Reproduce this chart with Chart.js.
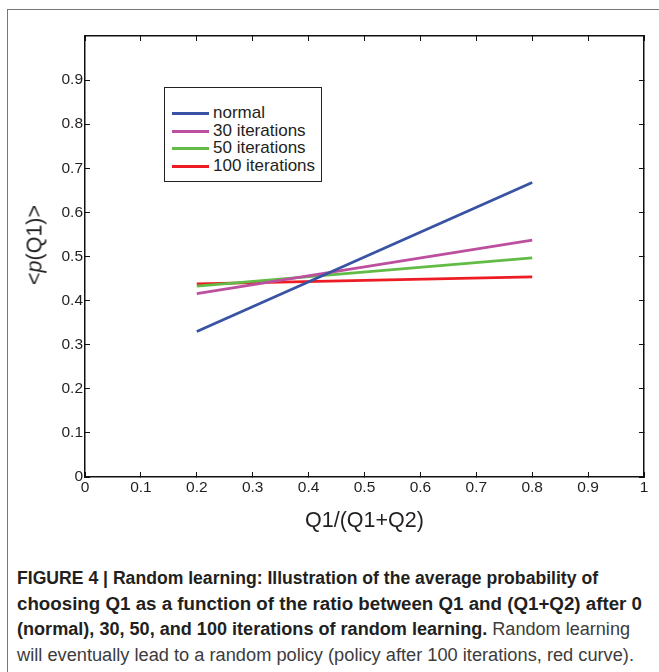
<!DOCTYPE html>
<html>
<head>
<meta charset="utf-8">
<script src="https://cdn.jsdelivr.net/npm/chart.js@4.4.1/dist/chart.umd.min.js"></script>
<style>
  html, body { margin: 0; padding: 0; background: #fff; }
  body { width: 659px; height: 672px; overflow: hidden; position: relative;
         font-family: "Liberation Sans", Arimo, Roboto, sans-serif; }
  .frame { position: absolute; left: 7px; top: 9px; width: 720px; height: 720px; border: 1.5px solid #777; }
  #chartWrap { position: absolute; left: 0; top: 0; width: 659px; height: 560px; }
  .ylabel { position: absolute; left: 35px; top: 245px; transform: translate(-50%, -50%) rotate(-90deg);
            font-size: 21.5px; color: #231f20; white-space: nowrap; }
  .legend { position: absolute; left: 164px; top: 87px; width: 158px; height: 95px; border: 1.5px solid #222;
            background: #fff; box-sizing: border-box; }
  .legend .row { position: absolute; left: 0; height: 18px; font-size: 17px; line-height: 18px; color: #231f20; white-space: nowrap; }
  .legend .swatch { position: absolute; left: 7px; top: 8px; width: 37px; height: 3px; }
  .legend .txt { position: absolute; left: 48px; top: 0; }
  .caption { position: absolute; left: 17px; top: 566px; font-size: 18px; color: #3c3c3c; }
  .caption .line { display: block; height: 25.5px; line-height: 25.5px; white-space: nowrap; }
  .caption .line span.fit { display: inline-block; transform-origin: 0 50%; }
  .caption b { color: #231f20; }
</style>
</head>
<body>
<div class="frame"></div>
<div id="chartWrap"><canvas id="lineChart" width="659" height="560"></canvas></div>
<div class="ylabel">&lt;<i>p</i>(Q1)&gt;</div>
<div class="legend" id="legend"></div>
<div class="caption">
  <div class="line" data-w="581"><span class="fit"><b>FIGURE 4 | Random learning: Illustration of the average probability of</b></span></div>
  <div class="line" data-w="625"><span class="fit"><b>choosing Q1 as a function of the ratio between Q1 and (Q1+Q2) after 0</b></span></div>
  <div class="line" data-w="613"><span class="fit"><b>(normal), 30, 50, and 100 iterations of random learning.</b> Random learning</span></div>
  <div class="line" data-w="617"><span class="fit">will eventually lead to a random policy (policy after 100 iterations, red curve).</span></div>
</div>

<script>
// ratio Q1/(Q1+Q2) where each curve was evaluated
const ratios = [0.2, 0.8];

// average probability of picking Q1
const normal = [0.33, 0.668];
const iter30 = [0.416, 0.537];
const iter50 = [0.433, 0.497];
const iter100 = [0.438, 0.454];

const seriesNames = ["normal", "30 iterations", "50 iterations", "100 iterations"];
const seriesColors = ["#3953a4", "#bd4f9f", "#62bb46", "#ed1c24"];

const xTicks = [0, 0.1, 0.2, 0.3, 0.4, 0.5, 0.6, 0.7, 0.8, 0.9, 1];
const yTicks = [0, 0.1, 0.2, 0.3, 0.4, 0.5, 0.6, 0.7, 0.8, 0.9];

const toPoints = (ys) => ys.map((y, i) => ({ x: ratios[i], y }));

const fontFamily = "'Liberation Sans', Arimo, Roboto, sans-serif";
const tickFont = { family: fontFamily, size: 15.5 };
const ink = "#231f20";

// frame + inward ticks, matlab style
const frameAxis = (pos, extra) => Object.assign({
  type: "linear",
  position: pos,
  min: 0,
  max: 1,
  border: { display: true, color: "#111", width: 1.5 },
  grid: { drawOnChartArea: false, drawTicks: true, tickLength: -5, color: "#111", lineWidth: 1 },
}, extra);

const fixSize = (prop, val) => (scale) => { scale[prop] = val; };

const chart = new Chart(document.getElementById("lineChart"), {
  type: "line",
  data: {
    datasets: [normal, iter30, iter50, iter100].map((d, i) => ({
      label: seriesNames[i],
      data: toPoints(d),
      borderColor: seriesColors[i],
      backgroundColor: seriesColors[i],
      borderWidth: 2.8,
      pointRadius: 0,
      tension: 0,
    })),
  },
  options: {
    responsive: false,
    animation: false,
    layout: { padding: 0 },
    plugins: { legend: { display: false }, tooltip: { enabled: false } },
    scales: {
      x: frameAxis("bottom", {
        afterFit: fixSize("height", 83),
        afterBuildTicks: (s) => { s.ticks = xTicks.map((v) => ({ value: v })); },
        ticks: { color: ink, font: tickFont, padding: 6, maxRotation: 0, autoSkip: false,
                 callback: (v) => String(+v.toFixed(1)) },
        title: { display: true, text: "Q1/(Q1+Q2)", color: ink,
                 font: { family: fontFamily, size: 21.5 },
                 padding: { top: 0, bottom: 26 } },
      }),
      y: frameAxis("left", {
        afterFit: fixSize("width", 85),
        afterBuildTicks: (s) => { s.ticks = yTicks.map((v) => ({ value: v })); },
        ticks: { color: ink, font: tickFont, padding: 7,
                 callback: (v) => String(+v.toFixed(1)) },
      }),
      x2: frameAxis("top", {
        afterFit: fixSize("height", 36),
        afterBuildTicks: (s) => { s.ticks = xTicks.map((v) => ({ value: v })); },
        ticks: { display: false },
      }),
      y2: frameAxis("right", {
        afterFit: fixSize("width", 15),
        afterBuildTicks: (s) => { s.ticks = yTicks.map((v) => ({ value: v })); },
        ticks: { display: false },
      }),
    },
  },
});

// boxed legend inside the plot
const legendEl = document.getElementById("legend");
chart.data.datasets.forEach((ds, i) => {
  const row = document.createElement("div");
  row.className = "row";
  row.style.top = (16 + i * 17.7) + "px";
  row.innerHTML = '<span class="swatch" style="background:' + ds.borderColor + '"></span><span class="txt">' + ds.label + "</span>";
  legendEl.appendChild(row);
});

// squeeze each caption line to its set width (condensed face)
document.querySelectorAll(".caption .line").forEach((line) => {
  const span = line.querySelector(".fit");
  const target = +line.dataset.w;
  const natural = span.getBoundingClientRect().width;
  span.style.transform = "scaleX(" + (target / natural) + ")";
});
</script>
</body>
</html>
